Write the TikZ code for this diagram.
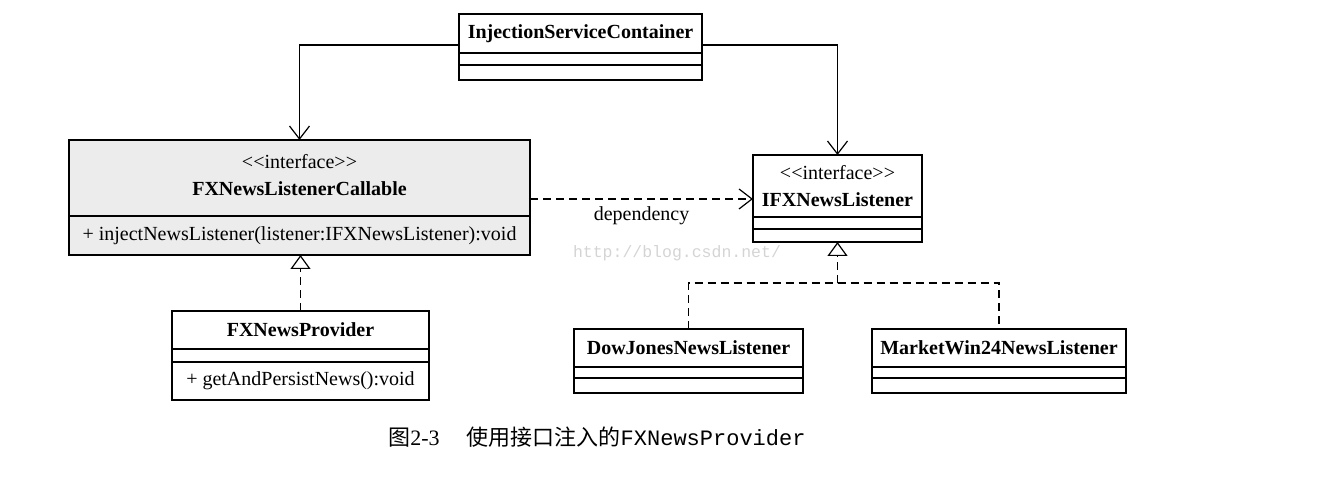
\documentclass[tikz,border=0pt]{standalone}
\usepackage{fontspec}
\setmainfont{Liberation Serif}
\setmonofont{Liberation Mono}
\newfontfamily\cjk{Noto Sans CJK SC}
\usetikzlibrary{arrows.meta, positioning, calc}
\definecolor{IfaceFill}{RGB}{236, 236, 236}
\definecolor{MarkGray}{RGB}{212, 212, 212}
\newcommand{\stereo}[1]{<\kern0pt<#1>\kern0pt>}

\begin{document}
\begin{tikzpicture}[
    x=0.5pt, y=0.5pt,
    every node/.style={font=\fontsize{10}{12}\selectfont},
    umlbox/.style={draw, line width=0.9pt, inner sep=0pt, outer sep=0pt},
    assoc/.style={-{Straight Barb[length=6.5pt, width=10pt]}, line width=0.6pt},
    depend/.style={dash pattern=on 4pt off 2.5pt, -{Straight Barb[length=6.5pt, width=10pt]}, line width=0.6pt},
    realize/.style={dash pattern=on 4pt off 2.5pt, -{Triangle[open, fill=white, length=7pt, width=10pt]}, line width=0.6pt}
]
\useasboundingbox (0,0) rectangle (1334,485);
% Container
\node[umlbox, minimum width=121.5pt, minimum height=19.5pt] (isct) at (580.5,451.5) {\textbf{InjectionServiceContainer}};
\node[umlbox, minimum width=121.5pt, minimum height=6pt, below=0pt of isct] (iscc1) {};
\node[umlbox, minimum width=121.5pt, minimum height=7.5pt, below=0pt of iscc1] (iscc2) {};
% Callable interface
\node[umlbox, fill=IfaceFill, align=center, text depth=3.5pt, minimum width=230.5pt, minimum height=38pt] (callt) at (299.5,307) {\stereo{interface}\\[1.5pt]\textbf{FXNewsListenerCallable}};
\node[umlbox, fill=IfaceFill, minimum width=230.5pt, minimum height=19.5pt, below=0pt of callt] (callc) {+ injectNewsListener(listener:IFXNewsListener):void};
% Listener interface
\node[umlbox, align=center, minimum width=84.5pt, minimum height=31pt] (ifxt) at (837.5,299) {\stereo{interface}\\[1.5pt]\textbf{IFXNewsListener}};
\node[umlbox, minimum width=84.5pt, minimum height=6pt, below=0pt of ifxt] (ifxc1) {};
\node[umlbox, minimum width=84.5pt, minimum height=6.5pt, below=0pt of ifxc1] (ifxc2) {};
% Provider
\node[umlbox, minimum width=128.5pt, minimum height=19pt] (provt) at (300.5,155) {\textbf{FXNewsProvider}};
\node[umlbox, minimum width=128.5pt, minimum height=6.5pt, below=0pt of provt] (provc1) {};
\node[umlbox, minimum width=128.5pt, minimum height=19pt, below=0pt of provc1] (provc2) {+ getAndPersistNews():void};
% Listeners
\node[umlbox, minimum width=114.5pt, minimum height=19pt] (djt) at (688.5,137) {\textbf{DowJonesNewsListener}};
\node[umlbox, minimum width=114.5pt, minimum height=5.5pt, below=0pt of djt] (djc1) {};
\node[umlbox, minimum width=114.5pt, minimum height=7.5pt, below=0pt of djc1] (djc2) {};
\node[umlbox, minimum width=127pt, minimum height=19pt] (mwt) at (999,137) {\textbf{MarketWin24NewsListener}};
\node[umlbox, minimum width=127pt, minimum height=5.5pt, below=0pt of mwt] (mwc1) {};
\node[umlbox, minimum width=127pt, minimum height=7.5pt, below=0pt of mwc1] (mwc2) {};
% Associations
\draw[assoc] ($(isct.south west)+(0,8)$) -| (callt.north);
\draw[assoc] ($(isct.south east)+(0,8)$) -| (ifxt.north);
% Dependency
\coordinate (deptip) at ($(ifxt.west)+(0,-13)$);
\draw[depend] (callt.east |- deptip) -- (deptip) node[midway, below=0pt] (deplabel) {dependency};
% Realizations
\draw[realize] (provt.north) -- (provt.north |- callc.south);
\coordinate (ifxjoin) at ($(ifxc2.south)+(0,-41)$);
\draw[dash pattern=on 4pt off 2.5pt, line width=0.6pt] (djt.north) |- (ifxjoin) -| (mwt.north);
\draw[realize] (ifxjoin) -- (ifxc2.south);
% Watermark and caption
\node[font=\ttfamily\fontsize{8.25}{10}\selectfont, text=MarkGray] (mark) at (677,232) {http://blog.csdn.net/};
\node[anchor=west, inner sep=0pt, font=\fontsize{11}{13}\selectfont] (caption) at (388,48) {{\cjk 图}2-3\hspace{13.5pt}{\cjk 使用接口注入的}\texttt{FXNewsProvider}};
\end{tikzpicture}
\end{document}
